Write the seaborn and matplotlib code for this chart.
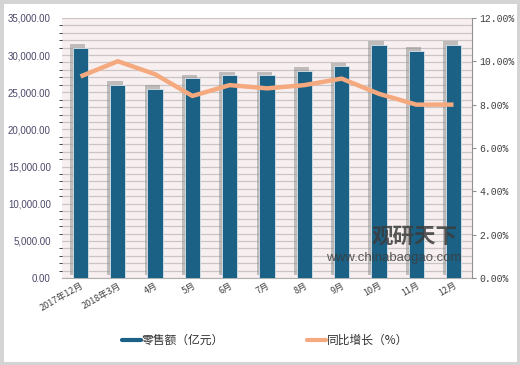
import numpy as np
import pandas as pd
import seaborn as sns
import matplotlib.pyplot as plt
import matplotlib.patheffects as pe
from matplotlib.lines import Line2D
from matplotlib.patches import Rectangle
from matplotlib.ticker import FuncFormatter, MultipleLocator

# data
months = ['2017年12月', '2018年3月', '4月', '5月', '6月', '7月', '8月', '9月', '10月', '11月', '12月']
sales = [31000, 26000, 25500, 26900, 27300, 27300, 27900, 28500, 31400, 30600, 31400]
growth = [9.3, 10.0, 9.4, 8.4, 8.9, 8.75, 8.9, 9.2, 8.5, 8.0, 8.0]

df = pd.DataFrame({'month': months, 'sales': sales, 'growth': growth})

sns.set_style('white')
plt.rcParams['font.family'] = ['Noto Sans CJK SC', 'DejaVu Sans']

bar_color = '#1b6185'
line_color = '#f5a97f'
label_color = '#4a4868'

fig = plt.figure(figsize=(5.2, 3.65), dpi=100)
ax = fig.add_axes([0.119, 0.238, 0.789, 0.713])
ax.set_facecolor('#f8f0f0')

sns.barplot(data=df, x='month', y='sales', color=bar_color, width=0.41,
            saturation=1, edgecolor='#d8e4ea', linewidth=0.6, ax=ax, zorder=3)
# soft grey shadow up-left of each bar
for p in ax.patches:
    p.set_path_effects([pe.SimplePatchShadow(offset=(-2, 2.5), shadow_rgbFace='#8a8a8a', alpha=0.5),
                        pe.Normal()])

ax.set_ylim(0, 35000)
ax.yaxis.set_major_locator(MultipleLocator(5000))
ax.yaxis.set_minor_locator(MultipleLocator(1000))
ax.yaxis.set_major_formatter(FuncFormatter(lambda v, _: f'{v:,.2f}'))
ax.grid(axis='y', which='both', color='#cac6c6', linewidth=0.9, zorder=0)
ax.set_axisbelow(True)
ax.set_xlim(-0.5, len(months) - 0.5)
ax.set_xlabel('')
ax.set_ylabel('')
for s in ['top', 'right', 'left']:
    ax.spines[s].set_visible(False)
ax.spines['bottom'].set_color('#b0b0b0')
ax.tick_params(axis='y', length=0, labelsize=7, labelcolor=label_color, pad=8)
for t in ax.get_yticklabels():
    t.set_family('Liberation Sans')
ax.tick_params(axis='x', length=0, labelsize=6.5, labelcolor='#404040', pad=2)
plt.setp(ax.get_xticklabels(), rotation=30, ha='right', rotation_mode='anchor')

ax2 = ax.twinx()
sns.lineplot(x=np.arange(len(months)), y=growth, color=line_color, linewidth=3.2,
             ax=ax2, sort=False, solid_joinstyle='round', solid_capstyle='butt', zorder=4)
ax2.set_ylim(0, 12)
ax2.yaxis.set_major_locator(MultipleLocator(2))
ax2.yaxis.set_major_formatter(FuncFormatter(lambda v, _: f'{v:.2f}%'))
for s in ['top', 'left', 'bottom']:
    ax2.spines[s].set_visible(False)
ax2.spines['right'].set_color('#909090')
ax2.tick_params(axis='y', length=3, color='#909090', labelsize=7, labelcolor='#404040', pad=2)
for t in ax2.get_yticklabels():
    t.set_family('Liberation Mono')

# watermark
fig.text(0.715, 0.334, '观研天下', fontsize=15.5, color='#3c3c3c', alpha=0.85,
         fontweight='bold', zorder=10)
fig.text(0.627, 0.285, 'www.chinabaogao.com', fontsize=9.5, color='#3c3c3c', alpha=0.85,
         family='Liberation Sans', zorder=10)

handles = [Line2D([0], [0], color=bar_color, lw=3),
           Line2D([0], [0], color=line_color, lw=3)]
fig.legend(handles, ['零售额（亿元）', '同比增长（%）'], loc='center', bbox_to_anchor=(0.51, 0.068),
           ncol=2, frameon=False, fontsize=8.5, handlelength=1.6, handletextpad=0.1,
           columnspacing=7, labelcolor='#303030')

fig.patches.append(Rectangle((0, 0), 1, 1, transform=fig.transFigure, fill=False,
                             edgecolor='#d4d4d4', linewidth=5))

fig.savefig('out.png', dpi=100)
